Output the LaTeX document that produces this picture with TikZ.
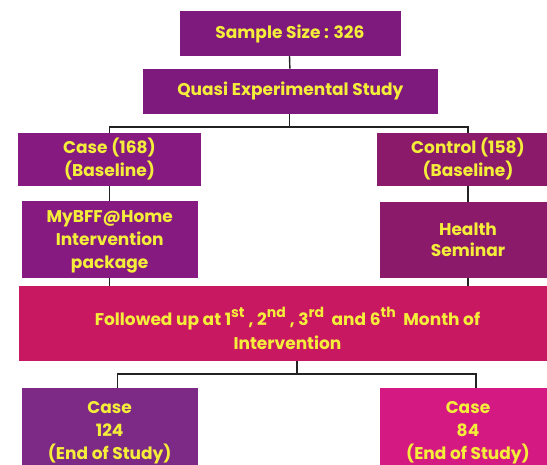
\documentclass[tikz,border=0pt]{standalone}
\usepackage{fontspec}
\setmainfont{Poppins}
\definecolor{txt}{HTML}{F4EE3A}
\definecolor{cA}{HTML}{7E1A7D}
\definecolor{cB}{HTML}{861A80}
\definecolor{cC}{HTML}{8B1A6A}
\definecolor{cD}{HTML}{C81862}
\definecolor{cE}{HTML}{7C2A85}
\definecolor{cF}{HTML}{D41A82}
\definecolor{ln}{HTML}{222222}
\newcommand{\mysup}[1]{\raisebox{7.5pt}{\fontsize{14}{14}\selectfont #1}\hspace{4pt}}
\tikzset{
  box/.style={rectangle, draw=none, inner sep=0pt, align=center, text=txt,
    font=\bfseries\fontsize{17}{23}\selectfont},
  conn/.style={draw=ln, line width=1.4pt}
}
\begin{document}
\begin{tikzpicture}[x=1pt,y=-1pt]
\clip (0,0) rectangle (547,465);
\useasboundingbox (0,0) rectangle (547,465);
\fill[white] (0,0) rectangle (547,465);
\node[box, fill=cA, minimum width=221pt, minimum height=44.6pt] (ss) at (290,33.5) {Sample Size : 326};
\node[box, fill=cA, minimum width=295pt, minimum height=45.3pt] (qe) at (290.4,91.4) {Quasi Experimental Study};
\node[box, fill=cB, minimum width=183pt, minimum height=53pt] (case) at (109.5,159.3) {Case (168)\\(Baseline)};
\node[box, fill=cC, minimum width=183pt, minimum height=53pt] (ctrl) at (468,159.3) {Control (158)\\(Baseline)};
\node[box, fill=cB, minimum width=176pt, minimum height=76.5pt] (bff) at (109.7,239.3) {\rule{0pt}{18pt}MyBFF@Home\\Intervention\\package};
\node[box, fill=cC, minimum width=176pt, minimum height=75.5pt, font=\bfseries\fontsize{17}{21}\selectfont] (hs) at (468,239.8) {Health\\Seminar};
\node[box, fill=cD, minimum width=537pt, minimum height=75pt, font=\bfseries\fontsize{17}{24}\selectfont] (fu) at (287.5,323.5) {\rule{0pt}{28pt}Followed up at 1\mysup{st}, 2\mysup{nd}, 3\mysup{rd} and 6\mysup{th} Month of\\Intervention};
\node[box, fill=cE, minimum width=176pt, minimum height=90pt, font=\bfseries\fontsize{17}{23}\selectfont] (bl) at (109.7,433) {Case\\124\\(End of Study)\rule[-6pt]{0pt}{6pt}};
\node[box, fill=cF, minimum width=176pt, minimum height=90pt, font=\bfseries\fontsize{17}{23}\selectfont] (br) at (468,433) {Case\\84\\(End of Study)\rule[-6pt]{0pt}{6pt}};
\draw[conn] ([xshift=-0.5pt]ss.south) -- ([xshift=-0.5pt]qe.north);
\draw[conn] ([xshift=-0.9pt]qe.south) -- ++(0,12.6) -| (case.north);
\draw[conn] ([xshift=-0.9pt]qe.south) -- ++(0,12.6) -| (ctrl.north);
\draw[conn] (case.south) -- (bff.north -| case.south);
\draw[conn] (ctrl.south) -- (hs.north);
\draw[conn] (bff.south -| case.south) -- (fu.north -| case.south);
\draw[conn] (hs.south) -- (fu.north -| hs.south);
\draw[conn] ([xshift=9.5pt]fu.south) -- ++(0,13) -| ([xshift=8pt]bl.north);
\draw[conn] ([xshift=9.5pt]fu.south) -- ++(0,13) -| ([xshift=8pt]br.north);
\end{tikzpicture}
\end{document}
